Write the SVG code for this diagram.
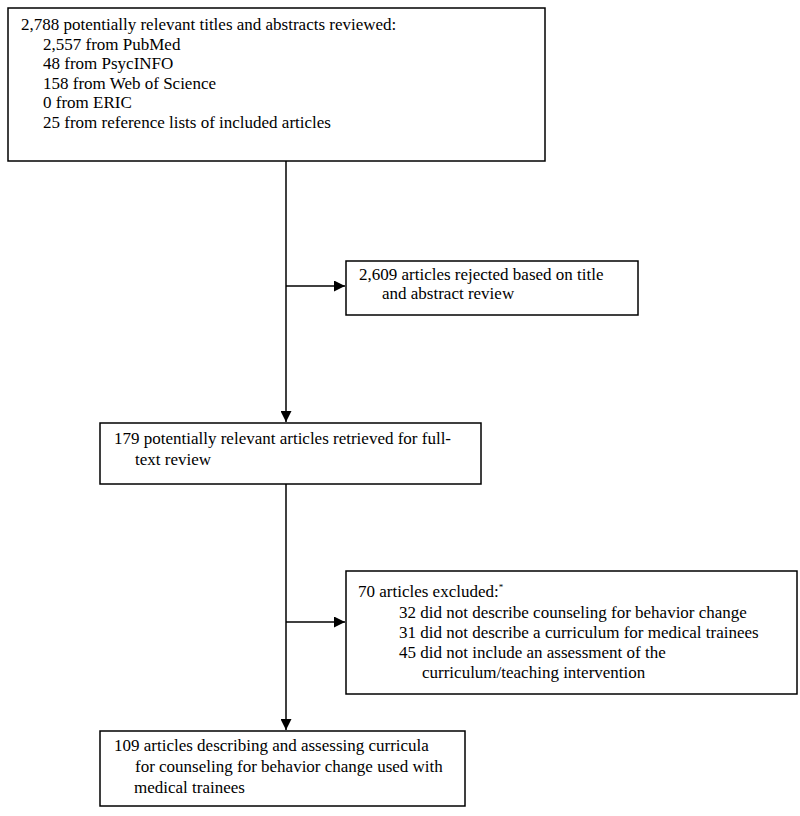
<svg xmlns="http://www.w3.org/2000/svg" width="800" height="816" viewBox="0 0 800 816" font-family="'Liberation Serif', 'Times New Roman', serif">
<style>
.box{fill:#fff;stroke:#000;stroke-width:1.5}
text{font-family:"Liberation Serif","Times New Roman",serif;font-size:17px;fill:#000}
.ln{stroke:#000;stroke-width:1.5;fill:none}
</style>
<defs>
<marker id="ah" viewBox="0 0 10 10" refX="10" refY="5" markerWidth="11" markerHeight="11" markerUnits="userSpaceOnUse" orient="auto">
<path d="M0,0 L10,5 L0,10 z" fill="#000"/>
</marker>
</defs>
<rect width="800" height="816" fill="#fff"/>
<g id="connectors">
<line class="ln" x1="286" y1="161" x2="286" y2="422" marker-end="url(#ah)"/>
<line class="ln" x1="286" y1="286" x2="345" y2="286" marker-end="url(#ah)"/>
<line class="ln" x1="286" y1="484" x2="286" y2="730" marker-end="url(#ah)"/>
<line class="ln" x1="286" y1="622" x2="345" y2="622" marker-end="url(#ah)"/>
</g>
<g id="node1">
<rect class="box" x="8" y="8" width="537" height="153"/>
<text x="21" y="30">2,788 potentially relevant titles and abstracts reviewed:</text>
<text x="43" y="50">2,557 from PubMed</text>
<text x="43" y="69">48 from PsycINFO</text>
<text x="43" y="89">158 from Web of Science</text>
<text x="43" y="108">0 from ERIC</text>
<text x="43" y="128">25 from reference lists of included articles</text>
</g>
<g id="node2">
<rect class="box" x="346" y="261" width="292" height="54"/>
<text x="359" y="280">2,609 articles rejected based on title</text>
<text x="382" y="299">and abstract review</text>
</g>
<g id="node3">
<rect class="box" x="100" y="423" width="381" height="61"/>
<text x="114" y="444">179 potentially relevant articles retrieved for full-</text>
<text x="135" y="465">text review</text>
</g>
<g id="node4">
<rect class="box" x="346" y="571" width="451" height="123"/>
<text x="358" y="597">70 articles excluded:<tspan font-size="9" dy="-7">*</tspan></text>
<text x="399" y="618">32 did not describe counseling for behavior change</text>
<text x="399" y="638">31 did not describe a curriculum for medical trainees</text>
<text x="399" y="658">45 did not include an assessment of the</text>
<text x="422" y="678">curriculum/teaching intervention</text>
</g>
<g id="node5">
<rect class="box" x="100" y="731" width="365" height="75"/>
<text x="114" y="751">109 articles describing and assessing curricula</text>
<text x="135" y="772">for counseling for behavior change used with</text>
<text x="134" y="793">medical trainees</text>
</g>
</svg>
